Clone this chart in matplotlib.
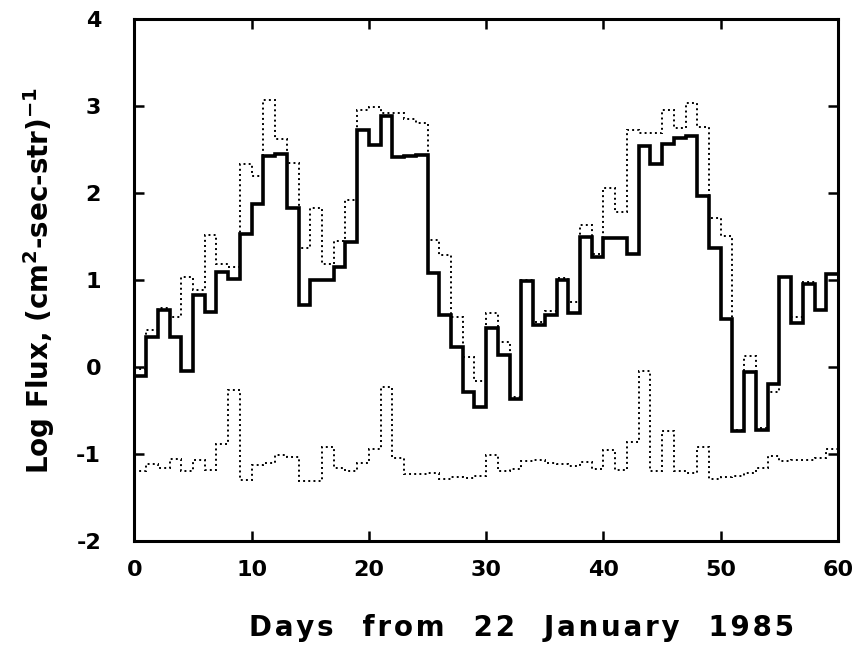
import numpy as np
import matplotlib
matplotlib.use("Agg")
import matplotlib.pyplot as plt

# day bin edges (1-day bins)
days = np.arange(61)

# thick solid curve
flux_main = [-0.10, 0.35, 0.66, 0.35, -0.04, 0.83, 0.63, 1.09, 1.01, 1.53,
             1.87, 2.43, 2.45, 1.83, 0.71, 1.00, 1.00, 1.15, 1.44, 2.72,
             2.55, 2.88, 2.42, 2.43, 2.44, 1.08, 0.60, 0.23, -0.29, -0.46,
             0.45, 0.14, -0.37, 0.99, 0.48, 0.60, 1.00, 0.62, 1.50, 1.27,
             1.48, 1.48, 1.30, 2.54, 2.33, 2.56, 2.63, 2.65, 1.97, 1.37,
             0.55, -0.73, -0.06, -0.72, -0.19, 1.03, 0.51, 0.95, 0.65, 1.07]

# upper dotted curve
flux_upper = [-0.02, 0.43, 0.68, 0.58, 1.03, 0.88, 1.52, 1.19, 1.15, 2.33,
              2.20, 3.07, 2.62, 2.35, 1.37, 1.83, 1.19, 1.45, 1.92, 2.95,
              2.99, 2.92, 2.92, 2.85, 2.81, 1.46, 1.29, 0.58, 0.12, -0.16,
              0.62, 0.29, -0.34, 1.00, 0.52, 0.64, 1.02, 0.75, 1.63, 1.30,
              2.06, 1.78, 2.73, 2.69, 2.69, 2.96, 2.75, 3.04, 2.76, 1.71,
              1.51, -0.72, 0.13, -0.70, -0.29, 1.04, 0.58, 0.98, 0.66, 1.07]

# lower dotted curve
flux_lower = [-1.19, -1.11, -1.16, -1.06, -1.20, -1.07, -1.18, -0.89, -0.26, -1.30,
              -1.13, -1.10, -1.01, -1.03, -1.31, -1.31, -0.92, -1.16, -1.19, -1.10,
              -0.94, -0.23, -1.05, -1.23, -1.23, -1.22, -1.29, -1.26, -1.27, -1.25,
              -1.01, -1.19, -1.17, -1.08, -1.07, -1.10, -1.11, -1.14, -1.09, -1.17,
              -0.95, -1.18, -0.86, -0.05, -1.20, -0.73, -1.19, -1.22, -0.92, -1.29,
              -1.26, -1.25, -1.22, -1.16, -1.02, -1.08, -1.07, -1.07, -1.04, -0.94]

x_ticks = [0, 10, 20, 30, 40, 50, 60]
y_ticks = [-2, -1, 0, 1, 2, 3, 4]

plt.rcParams['font.family'] = ['DejaVu Sans']
plt.rcParams['font.weight'] = 'bold'
plt.rcParams['axes.unicode_minus'] = False

fig = plt.figure(figsize=(8.63, 6.46), dpi=100)
ax = fig.add_axes([0.1557, 0.1625, 0.8153, 0.808])

# dotted first so the solid line sits on top
ax.stairs(flux_upper, days, baseline=None, color='black', linestyle=':', linewidth=1.4)
ax.stairs(flux_lower, days, baseline=None, color='black', linestyle=':', linewidth=1.4)
ax.stairs(flux_main, days, baseline=None, color='black', linestyle='-', linewidth=2.6)

ax.set_xlim(0, 60)
ax.set_ylim(-2, 4)
ax.set_xticks(x_ticks)
ax.set_yticks(y_ticks)
ax.tick_params(axis='both', direction='in', length=7, width=1.8, top=True, right=True,
               labelsize=16)
ax.tick_params(axis='x', pad=14)
ax.tick_params(axis='y', pad=24)
for lab in ax.get_xticklabels() + ax.get_yticklabels():
    lab.set_fontweight('bold')
for sp in ax.spines.values():
    sp.set_linewidth(2.2)

# letter-spaced x label, like the original typesetting
words = ["Days", "from", "22", "January", "1985"]
xlab = "   ".join("\u200a".join(w) for w in words)
ax.set_xlabel(xlab, fontsize=20, fontweight='bold', labelpad=24)
ax.xaxis.label.set_x(0.55)
ax.set_ylabel("Log Flux, (cm$^\\mathbf{2}$-sec-str)$^\\mathbf{-1}$", fontsize=20,
              fontweight='bold', labelpad=14)

fig.savefig("out.png", dpi=100)
